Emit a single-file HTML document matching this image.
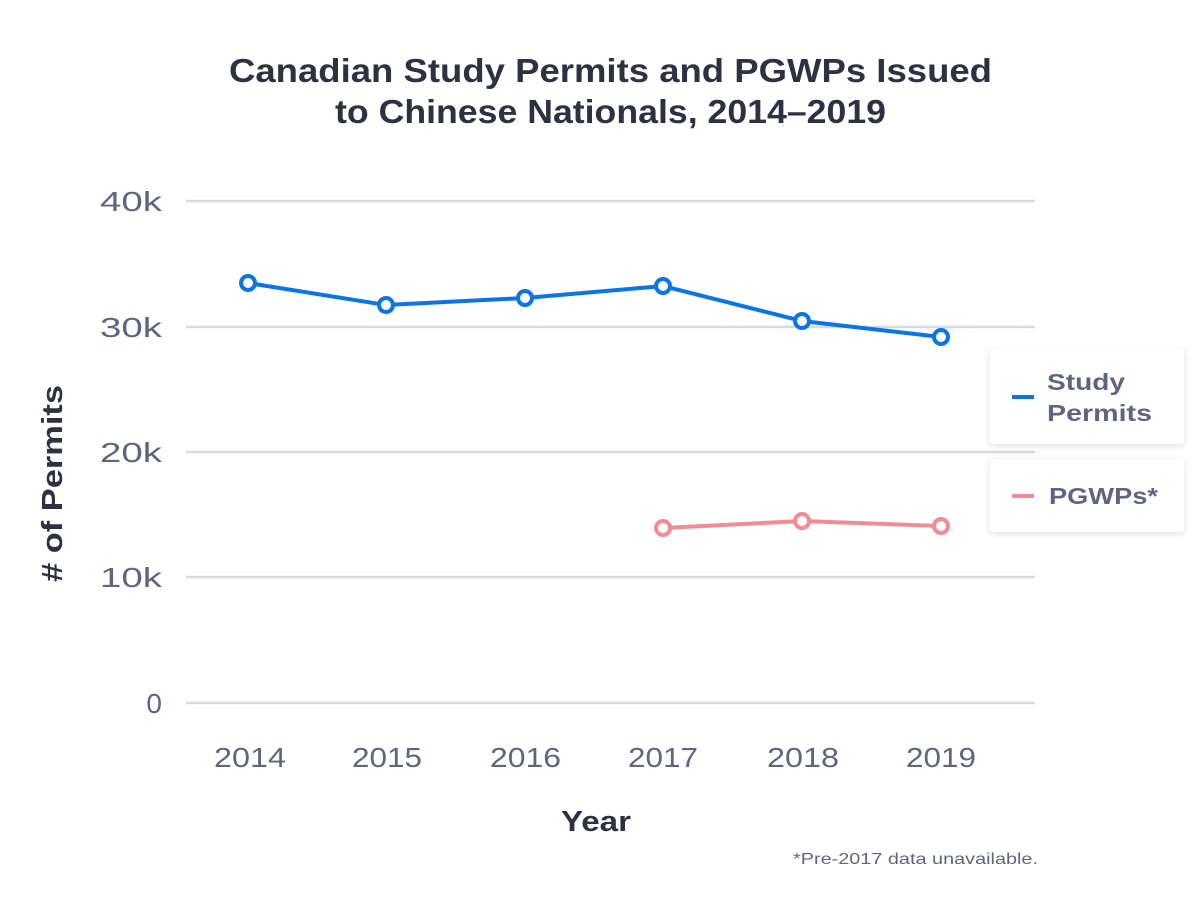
<!DOCTYPE html>
<html><head><meta charset="utf-8"><style>
body{margin:0;background:#fff;}
svg text{font-family:"Liberation Sans",sans-serif;}
</style></head><body>
<svg width="1201" height="909" viewBox="0 0 1201 909" xmlns="http://www.w3.org/2000/svg">
<defs>
<filter id="sh" x="-20%" y="-20%" width="140%" height="160%"><feDropShadow dx="0" dy="2" stdDeviation="4" flood-color="#000" flood-opacity="0.12"/></filter>
</defs>
<text x="229" y="82" font-size="33" font-weight="bold" fill="#2e3142" textLength="763" lengthAdjust="spacingAndGlyphs">Canadian Study Permits and PGWPs Issued</text>
<text x="335" y="123" font-size="33" font-weight="bold" fill="#2e3142" textLength="551" lengthAdjust="spacingAndGlyphs">to Chinese Nationals, 2014–2019</text>
<g stroke="#d9d9e0" stroke-width="2.5">
<line x1="186" x2="1035" y1="201" y2="201"/>
<line x1="186" x2="1035" y1="327" y2="327"/>
<line x1="186" x2="1035" y1="452" y2="452"/>
<line x1="186" x2="1035" y1="577" y2="577"/>
<line x1="186" x2="1035" y1="703" y2="703"/>
</g>
<g font-size="28" fill="#5f6580">
<text x="100" y="211" textLength="62" lengthAdjust="spacingAndGlyphs">40k</text>
<text x="100" y="337" textLength="62" lengthAdjust="spacingAndGlyphs">30k</text>
<text x="100" y="462" textLength="62" lengthAdjust="spacingAndGlyphs">20k</text>
<text x="100" y="587" textLength="62" lengthAdjust="spacingAndGlyphs">10k</text>
<text x="162" y="713" text-anchor="end">0</text>
</g>
<g font-size="28" fill="#5f6580">
<text x="214" y="767" textLength="72" lengthAdjust="spacingAndGlyphs">2014</text>
<text x="352" y="767" textLength="70" lengthAdjust="spacingAndGlyphs">2015</text>
<text x="490" y="767" textLength="71" lengthAdjust="spacingAndGlyphs">2016</text>
<text x="628" y="767" textLength="70" lengthAdjust="spacingAndGlyphs">2017</text>
<text x="767" y="767" textLength="72" lengthAdjust="spacingAndGlyphs">2018</text>
<text x="906" y="767" textLength="70" lengthAdjust="spacingAndGlyphs">2019</text>
</g>
<text x="561" y="831" font-size="29" font-weight="bold" fill="#2e3142" textLength="70" lengthAdjust="spacingAndGlyphs">Year</text>
<text transform="translate(62,582) rotate(-90)" font-size="29" font-weight="bold" fill="#2e3142" textLength="197" lengthAdjust="spacingAndGlyphs"># of Permits</text>
<text x="793" y="864" font-size="16" fill="#5f6580" textLength="245" lengthAdjust="spacingAndGlyphs">*Pre-2017 data unavailable.</text>
<polyline fill="none" stroke="#0a74e8" stroke-width="4" points="248,283 386,305 525,298 663,286 802,321 941,337"/>
<g fill="#fff" stroke="#0a74e8" stroke-width="4">
<circle cx="248" cy="283" r="7"/><circle cx="386" cy="305" r="7"/><circle cx="525" cy="298" r="7"/>
<circle cx="663" cy="286" r="7"/><circle cx="802" cy="321" r="7"/><circle cx="941" cy="337" r="7"/>
</g>
<polyline fill="none" stroke="#f28b93" stroke-width="4" points="663,528 802,521 941,526"/>
<g fill="#fff" stroke="#f28b93" stroke-width="4">
<circle cx="663" cy="528" r="7"/><circle cx="802" cy="521" r="7"/><circle cx="941" cy="526" r="7"/>
</g>
<rect x="990" y="349" width="194" height="95" rx="4" fill="#fff" filter="url(#sh)"/>
<rect x="990" y="459" width="194" height="73" rx="4" fill="#fff" filter="url(#sh)"/>
<line x1="1012" x2="1034" y1="397" y2="397" stroke="#0a74e8" stroke-width="4"/>
<line x1="1012" x2="1034" y1="496" y2="496" stroke="#f28b93" stroke-width="4"/>
<g font-size="23" font-weight="bold" fill="#5f6580">
<text x="1047" y="390" textLength="78" lengthAdjust="spacingAndGlyphs">Study</text>
<text x="1047" y="421" textLength="105" lengthAdjust="spacingAndGlyphs">Permits</text>
<text x="1049" y="504" textLength="109" lengthAdjust="spacingAndGlyphs">PGWPs*</text>
</g>
</svg>
</body></html>
